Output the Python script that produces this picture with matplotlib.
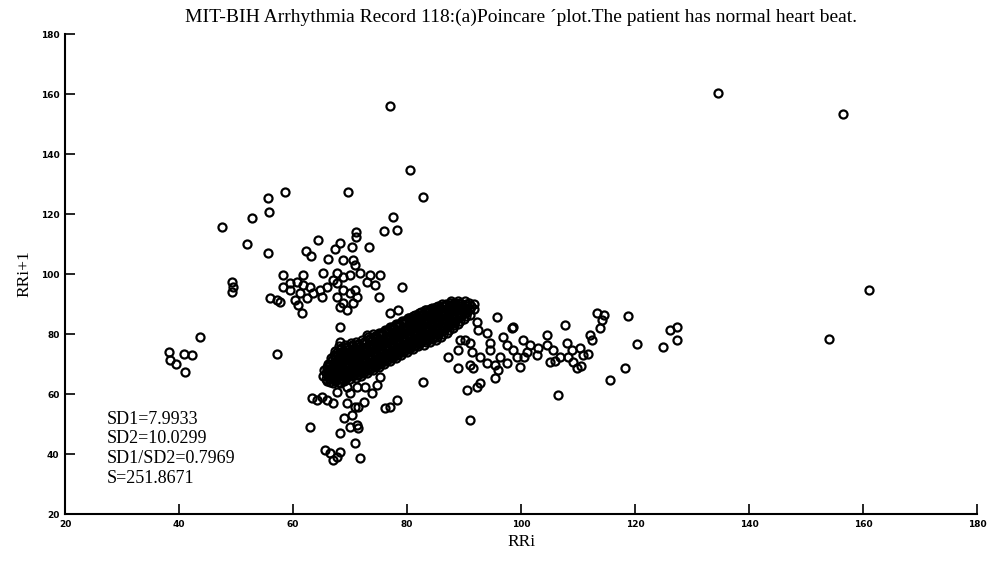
import matplotlib
matplotlib.use("Agg")
import matplotlib.pyplot as plt

# ---- data (RR_i, RR_i+1) ----
# dense main band along the identity line
band_rri = [65.3, 65.4,
            66.0, 66.1, 65.9, 66.2,
            67.0, 66.9, 67.1, 67.0, 66.8, 67.2,
            68.0, 68.1, 67.9, 68.0, 68.2, 67.8, 68.1,
            69.0, 69.1, 68.9, 69.2, 69.0, 68.8, 69.1,
            70.0, 70.2, 69.9, 70.1, 70.0, 69.8, 70.1,
            71.0, 71.1, 70.9, 71.2, 71.0, 70.8, 71.1,
            72.0, 72.1, 71.9, 72.2, 72.0, 71.8, 72.1,
            73.0, 73.1, 72.9, 73.2, 73.0, 72.8, 73.1,
            74.0, 74.1, 73.9, 74.2, 74.0, 73.8, 74.1,
            75.0, 75.1, 74.9, 75.2, 75.0, 74.8, 75.1,
            76.0, 76.1, 75.9, 76.2, 76.0, 75.8, 76.1,
            77.0, 77.1, 76.9, 77.2, 77.0, 76.8, 77.1,
            78.0, 78.1, 77.9, 78.2, 78.0, 77.8, 78.1,
            79.0, 79.1, 78.9, 79.2, 79.0, 78.8, 79.1,
            80.0, 80.1, 79.9, 80.2, 80.0, 79.8, 80.1,
            81.0, 81.1, 80.9, 81.2, 81.0, 80.8, 81.1,
            82.0, 82.1, 81.9, 82.2, 82.0, 81.8, 82.1,
            83.0, 83.1, 82.9, 83.2, 83.0, 82.8, 83.1,
            84.0, 84.1, 83.9, 84.2, 84.0, 83.8, 84.1,
            85.0, 85.1, 84.9, 85.2, 85.0, 84.8, 85.1,
            86.0, 86.1, 85.9, 86.2, 86.0, 85.8, 86.1,
            87.0, 87.1, 86.9, 87.2, 87.0, 86.8,
            88.0, 88.1, 87.9, 88.2, 88.0, 87.8,
            89.0, 89.1, 88.9, 89.2, 89.0,
            90.0, 90.1, 89.9, 90.2,
            91.0, 91.1, 90.9,
            91.8, 91.7]
band_rri1 = [66.0, 68.0,
             64.5, 66.5, 68.5, 70.0,
             63.8, 65.5, 67.5, 69.5, 71.5, 73.0,
             64.0, 66.0, 68.0, 70.0, 72.0, 74.0, 76.0,
             64.5, 66.5, 68.5, 70.5, 72.5, 74.5, 76.5,
             65.0, 67.0, 69.0, 71.0, 73.0, 75.0, 77.0,
             65.5, 67.5, 69.5, 71.5, 73.5, 75.5, 77.5,
             66.0, 68.0, 70.0, 72.0, 74.0, 76.0, 78.0,
             67.0, 69.0, 71.0, 73.0, 75.0, 77.0, 79.0,
             68.0, 70.0, 72.0, 74.0, 76.0, 78.0, 80.0,
             69.0, 71.0, 73.0, 75.0, 77.0, 79.0, 80.5,
             70.0, 72.0, 74.0, 76.0, 78.0, 80.0, 81.5,
             71.0, 73.0, 75.0, 77.0, 79.0, 81.0, 82.5,
             72.0, 74.0, 76.0, 78.0, 80.0, 82.0, 83.5,
             73.0, 75.0, 77.0, 79.0, 81.0, 83.0, 84.5,
             74.0, 76.0, 78.0, 80.0, 82.0, 84.0, 85.5,
             75.0, 77.0, 79.0, 81.0, 83.0, 85.0, 86.0,
             76.0, 78.0, 80.0, 82.0, 84.0, 86.0, 87.0,
             76.5, 78.5, 80.5, 82.5, 84.5, 86.5, 88.0,
             77.5, 79.5, 81.5, 83.5, 85.5, 87.5, 88.5,
             78.0, 80.0, 82.0, 84.0, 86.0, 88.0, 89.0,
             79.0, 81.0, 83.0, 85.0, 87.0, 89.0, 90.0,
             80.5, 82.5, 84.5, 86.5, 88.5, 90.0,
             82.0, 84.0, 86.0, 88.0, 89.5, 91.0,
             83.5, 85.5, 87.5, 89.5, 91.0,
             85.0, 87.0, 89.0, 91.0,
             86.5, 88.5, 90.5,
             88.5, 90.0]

# further beats inside the band (between the ones above)
band2_rri = [65.8, 65.7, 65.9,
             66.5, 66.6, 66.4, 66.5, 66.6,
             67.5, 67.6, 67.4, 67.5, 67.6, 67.4,
             68.5, 68.6, 68.4, 68.5, 68.6, 68.4,
             69.5, 69.6, 69.4, 69.5, 69.6, 69.4,
             70.5, 70.6, 70.4, 70.5, 70.6, 70.4,
             71.5, 71.6, 71.4, 71.5, 71.6, 71.4,
             72.5, 72.6, 72.4, 72.5, 72.6, 72.4,
             73.5, 73.6, 73.4, 73.5, 73.6, 73.4,
             74.5, 74.6, 74.4, 74.5, 74.6, 74.4,
             75.5, 75.6, 75.4, 75.5, 75.6, 75.4,
             76.5, 76.6, 76.4, 76.5, 76.6, 76.4,
             77.5, 77.6, 77.4, 77.5, 77.6, 77.4,
             78.5, 78.6, 78.4, 78.5, 78.6, 78.4,
             79.5, 79.6, 79.4, 79.5, 79.6, 79.4,
             80.5, 80.6, 80.4, 80.5, 80.6, 80.4,
             81.5, 81.6, 81.4, 81.5, 81.6, 81.4,
             82.5, 82.6, 82.4, 82.5, 82.6, 82.4,
             83.5, 83.6, 83.4, 83.5, 83.6, 83.4,
             84.5, 84.6, 84.4, 84.5, 84.6, 84.4,
             85.5, 85.6, 85.4, 85.5, 85.6, 85.4,
             86.5, 86.6, 86.4, 86.5, 86.6,
             87.5, 87.6, 87.4, 87.5, 87.6,
             88.5, 88.6, 88.4, 88.5,
             89.5, 89.6, 89.4,
             90.5, 90.6,
             91.3]
band2_rri1 = [65.0, 67.0, 69.0,
              64.0, 66.0, 68.0, 70.0, 72.0,
              64.8, 66.8, 68.8, 70.8, 72.8, 74.5,
              65.3, 67.3, 69.3, 71.3, 73.3, 75.3,
              65.8, 67.8, 69.8, 71.8, 73.8, 75.8,
              66.3, 68.3, 70.3, 72.3, 74.3, 76.3,
              66.8, 68.8, 70.8, 72.8, 74.8, 76.8,
              67.5, 69.5, 71.5, 73.5, 75.5, 77.5,
              68.5, 70.5, 72.5, 74.5, 76.5, 78.5,
              69.5, 71.5, 73.5, 75.5, 77.5, 79.5,
              70.5, 72.5, 74.5, 76.5, 78.5, 80.3,
              71.5, 73.5, 75.5, 77.5, 79.5, 81.3,
              72.5, 74.5, 76.5, 78.5, 80.5, 82.3,
              73.5, 75.5, 77.5, 79.5, 81.5, 83.3,
              74.5, 76.5, 78.5, 80.5, 82.5, 84.3,
              75.5, 77.5, 79.5, 81.5, 83.5, 85.3,
              76.5, 78.5, 80.5, 82.5, 84.5, 86.3,
              77.3, 79.3, 81.3, 83.3, 85.3, 87.3,
              78.0, 80.0, 82.0, 84.0, 86.0, 88.0,
              79.0, 81.0, 83.0, 85.0, 87.0, 88.8,
              80.0, 82.0, 84.0, 86.0, 88.0, 89.5,
              81.5, 83.5, 85.5, 87.5, 89.5,
              83.0, 85.0, 87.0, 89.0, 90.5,
              84.5, 86.5, 88.5, 90.3,
              86.0, 88.0, 90.0,
              87.5, 89.5,
              89.2]

# yet more beats packed into the band
band3_rri = [66.3, 66.3,
             67.3, 67.3, 67.3, 67.3, 67.3,
             68.3, 68.3, 68.3, 68.3, 68.3, 68.3,
             69.3, 69.3, 69.3, 69.3, 69.3, 69.3,
             70.3, 70.3, 70.3, 70.3, 70.3, 70.3,
             71.3, 71.3, 71.3, 71.3, 71.3, 71.3,
             72.3, 72.3, 72.3, 72.3, 72.3, 72.3,
             73.3, 73.3, 73.3, 73.3, 73.3, 73.3,
             74.3, 74.3, 74.3, 74.3, 74.3, 74.3,
             75.3, 75.3, 75.3, 75.3, 75.3, 75.3,
             76.3, 76.3, 76.3, 76.3, 76.3, 76.3,
             77.3, 77.3, 77.3, 77.3, 77.3, 77.3,
             78.3, 78.3, 78.3, 78.3, 78.3, 78.3,
             79.3, 79.3, 79.3, 79.3, 79.3, 79.3,
             80.3, 80.3, 80.3, 80.3, 80.3, 80.3,
             81.3, 81.3, 81.3, 81.3, 81.3, 81.3,
             82.3, 82.3, 82.3, 82.3, 82.3, 82.3,
             83.3, 83.3, 83.3, 83.3, 83.3, 83.3,
             84.3, 84.3, 84.3, 84.3, 84.3, 84.3,
             85.3, 85.3, 85.3, 85.3, 85.3, 85.3,
             86.3, 86.3, 86.3, 86.3, 86.3, 86.3,
             87.3, 87.3, 87.3, 87.3, 87.3,
             88.3, 88.3, 88.3, 88.3, 88.3,
             89.3, 89.3, 89.3, 89.3,
             90.3, 90.3, 90.3]
band3_rri1 = [65.5, 67.5,
              64.5, 66.5, 68.5, 70.5, 72.2,
              65.0, 67.0, 69.0, 71.0, 73.0, 75.0,
              65.5, 67.5, 69.5, 71.5, 73.5, 75.5,
              66.0, 68.0, 70.0, 72.0, 74.0, 76.0,
              66.5, 68.5, 70.5, 72.5, 74.5, 76.5,
              67.0, 69.0, 71.0, 73.0, 75.0, 77.0,
              68.0, 70.0, 72.0, 74.0, 76.0, 78.0,
              69.0, 71.0, 73.0, 75.0, 77.0, 79.0,
              70.0, 72.0, 74.0, 76.0, 78.0, 79.8,
              71.0, 73.0, 75.0, 77.0, 79.0, 80.8,
              72.0, 74.0, 76.0, 78.0, 80.0, 81.8,
              73.0, 75.0, 77.0, 79.0, 81.0, 82.8,
              74.0, 76.0, 78.0, 80.0, 82.0, 83.8,
              75.0, 77.0, 79.0, 81.0, 83.0, 84.8,
              76.0, 78.0, 80.0, 82.0, 84.0, 85.5,
              77.0, 79.0, 81.0, 83.0, 85.0, 86.5,
              77.5, 79.5, 81.5, 83.5, 85.5, 87.3,
              78.5, 80.5, 82.5, 84.5, 86.5, 88.0,
              79.0, 81.0, 83.0, 85.0, 87.0, 88.5,
              80.0, 82.0, 84.0, 86.0, 88.0, 89.3,
              81.5, 83.5, 85.5, 87.5, 89.3,
              83.0, 85.0, 87.0, 89.0, 90.5,
              84.5, 86.5, 88.5, 90.3,
              86.0, 88.0, 90.0]

# cluster above the band (RR_i short, RR_i+1 long)
upper_rri = [80.5, 82.8, 69.6, 58.6, 55.6, 55.8, 52.8, 47.5, 51.9, 55.6,
             49.3, 49.5, 49.3, 77.5, 76.0, 78.2, 71.0, 71.0, 64.4, 68.2,
             70.4, 73.3, 62.3, 63.2, 67.4, 66.1, 68.8, 70.5, 70.9, 58.2,
             61.8, 65.3, 67.7, 68.8, 67.0, 70.0, 71.8, 73.5, 75.3, 73.0,
             74.4, 75.0, 79.1, 58.2, 59.5, 60.7, 61.8, 63.0, 59.5, 61.2,
             57.2, 56.0, 57.7, 60.4, 60.9, 61.6, 62.5, 63.5, 64.7, 66.0,
             65.0, 67.7, 68.8, 70.0, 71.2, 67.7, 68.8, 70.5, 68.2, 69.5,
             70.9, 77.0, 78.4, 77.0]
upper_rri1 = [134.7, 125.7, 127.3, 127.3, 125.3, 120.7, 118.7, 115.7, 110.0, 107.0,
              97.3, 95.7, 94.0, 119.0, 114.3, 114.7, 114.0, 112.3, 111.3, 110.3,
              109.0, 109.0, 107.7, 106.0, 108.3, 105.0, 104.7, 104.7, 103.0, 99.7,
              99.7, 100.3, 100.3, 99.0, 98.0, 99.7, 100.3, 99.7, 99.7, 97.3,
              96.3, 92.3, 95.7, 95.7, 97.0, 97.3, 96.3, 95.7, 94.7, 93.7,
              91.3, 92.0, 90.7, 91.3, 89.7, 87.0, 92.0, 93.7, 94.7, 95.7,
              92.3, 97.0, 94.7, 93.7, 92.3, 92.3, 90.3, 90.3, 89.0, 88.0,
              94.7, 87.0, 88.0, 156.0]

# cluster to the right of the band (RR_i long, RR_i+1 normal)
right_rri = [95.8, 92.3, 92.5, 98.6, 107.7, 113.3, 114.6, 114.2, 118.8, 113.9,
             112.1, 112.5, 120.4, 124.9, 126.1, 127.4, 127.4, 118.2, 115.6, 106.5,
             91.1, 90.5, 92.3, 92.8, 87.2, 88.9, 89.3, 90.2, 91.1, 91.4,
             88.9, 91.1, 91.6, 92.8, 94.0, 94.6, 94.6, 94.0, 95.4, 95.4,
             96.0, 96.8, 97.5, 98.4, 98.6, 99.3, 97.5, 99.8, 100.4, 101.1,
             101.6, 102.8, 104.6, 104.6, 105.6, 106.8, 105.1, 108.1, 108.9, 110.4,
             110.9, 109.8, 109.1, 108.2, 96.3, 100.5, 103.0, 106.0, 110.5, 111.8]
right_rri1 = [85.7, 84.0, 81.3, 82.3, 83.0, 87.0, 86.3, 84.7, 86.0, 82.0,
              79.7, 78.0, 76.7, 75.7, 81.3, 82.3, 78.0, 68.7, 64.7, 59.7,
              51.3, 61.3, 62.3, 63.7, 72.3, 74.7, 78.0, 78.0, 77.0, 74.0,
              68.7, 69.7, 68.7, 72.3, 80.3, 77.0, 74.7, 70.3, 69.7, 65.3,
              68.0, 79.0, 76.3, 82.0, 74.7, 72.3, 70.3, 69.0, 78.0, 74.0,
              76.3, 73.0, 79.7, 76.3, 74.7, 72.3, 70.7, 77.0, 74.7, 75.3,
              73.0, 68.7, 70.7, 72.3, 72.3, 72.5, 75.5, 71.0, 69.5, 73.5]

# cluster below the band (RR_i normal, RR_i+1 short)
lower_rri = [63.3, 64.2, 65.1, 66.0, 67.0, 69.5, 70.9, 71.4, 70.4, 71.2,
             71.4, 68.2, 70.0, 63.0, 65.6, 66.5, 67.0, 67.7, 68.2, 70.9,
             71.8, 69.5, 71.2, 72.6, 74.7, 75.3, 68.2, 70.0, 67.7, 82.8,
             78.2, 76.1, 77.0, 68.2, 68.2, 73.0, 57.2, 72.5, 73.8, 69.0]
lower_rri1 = [58.7, 58.0, 59.0, 58.0, 57.0, 57.0, 55.7, 55.7, 53.0, 49.7,
              48.7, 47.0, 49.0, 49.0, 41.3, 40.3, 38.0, 39.0, 40.7, 43.7,
              38.7, 62.3, 62.3, 62.3, 63.0, 65.7, 63.7, 60.3, 60.7, 64.0,
              58.0, 55.3, 55.7, 82.3, 77.3, 79.7, 73.3, 57.5, 60.5, 52.0]

# isolated points
other_rri = [38.3, 38.5, 39.5, 40.8, 42.3, 41.0, 43.7,
             134.6, 156.5, 161.0, 154.0]
other_rri1 = [74.0, 71.5, 70.0, 73.3, 73.0, 67.3, 79.0,
              160.3, 153.3, 94.7, 78.3]

stats_lines = ["SD1=7.9933", "SD2=10.0299", "SD1/SD2=0.7969", "S=251.8671"]
xticks = [20, 40, 60, 80, 100, 120, 140, 160, 180]
yticks = [20, 40, 60, 80, 100, 120, 140, 160, 180]

serif = ["Liberation Serif", "DejaVu Serif"]

fig = plt.figure(figsize=(9.92, 5.62), dpi=100)
ax = fig.add_axes([0.0655, 0.0854, 0.9195, 0.854])

all_x = (band_rri + band2_rri + band3_rri + upper_rri + right_rri
         + lower_rri + other_rri)
all_y = (band_rri1 + band2_rri1 + band3_rri1 + upper_rri1 + right_rri1
         + lower_rri1 + other_rri1)
ax.plot(all_x, all_y, linestyle="none", marker="o", markersize=5.8,
        markerfacecolor="none", markeredgecolor="black", markeredgewidth=1.6)

ax.set_xlim(20, 180)
ax.set_ylim(20, 180)
ax.set_xticks(xticks)
ax.set_yticks(yticks)
ax.set_xticklabels([str(t) for t in xticks], fontsize=6.5, fontweight="bold")
ax.set_yticklabels([str(t) for t in yticks], fontsize=6.5, fontweight="bold")
ax.tick_params(direction="in", length=7, width=1.2, pad=4)
for s in ["top", "right"]:
    ax.spines[s].set_visible(False)
for s in ["left", "bottom"]:
    ax.spines[s].set_linewidth(1.5)

ax.set_xlabel("RRi", fontsize=12.5, family=serif, labelpad=4)
ax.set_ylabel("RRi+1", fontsize=12.5, family=serif, labelpad=6)
ax.set_title("MIT-BIH Arrhythmia Record 118:(a)Poincare \u00b4plot.The patient has normal heart beat.",
             fontsize=14, family=serif, pad=9)

ax.text(0.046, 0.215, "\n".join(stats_lines), transform=ax.transAxes,
        fontsize=13, family=serif, va="top", ha="left", linespacing=1.2)

fig.savefig("out.png", dpi=100)
